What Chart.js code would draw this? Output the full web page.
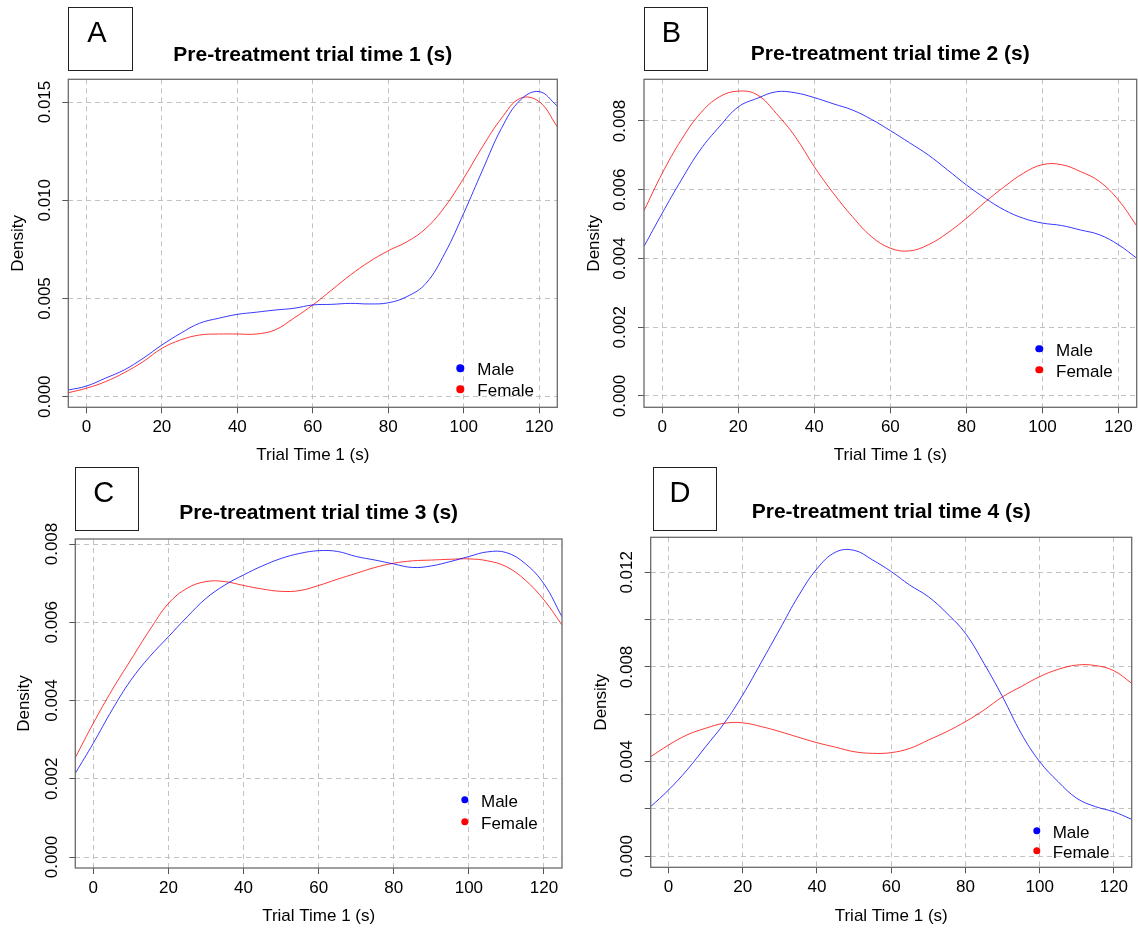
<!DOCTYPE html>
<html><head><meta charset="utf-8">
<script src="https://cdn.jsdelivr.net/npm/chart.js@4.4.1/dist/chart.umd.min.js"></script>
<style>
html,body{margin:0;padding:0;background:#fff;}
#wrap{position:relative;width:1138px;height:928px;overflow:hidden;font-family:'Liberation Sans',Arial,sans-serif;color:#000;}
canvas{position:absolute;left:0;top:0;}
.box{position:absolute;border:1.5px solid #222;box-sizing:border-box;}
.letter{position:absolute;font-size:29px;line-height:1;transform:translate(-50%,-50%);white-space:nowrap;}
.ttl{position:absolute;font-weight:bold;font-size:21px;line-height:1;transform:translate(-50%,-50%);white-space:nowrap;}
.dot{position:absolute;width:7.4px;height:7.4px;border-radius:50%;transform:translate(-50%,-50%);}
.lt{position:absolute;font-size:17px;line-height:1;transform:translateY(-50%);white-space:nowrap;}
</style></head>
<body>
<div id="wrap">
<canvas id="cA" width="1138" height="928"></canvas>
<canvas id="cB" width="1138" height="928"></canvas>
<canvas id="cC" width="1138" height="928"></canvas>
<canvas id="cD" width="1138" height="928"></canvas>
</div>
<script>
// ---------- text ----------
const panelLetters = ['A', 'B', 'C', 'D'];
const panelTitles = ['Pre-treatment trial time 1 (s)', 'Pre-treatment trial time 2 (s)', 'Pre-treatment trial time 3 (s)', 'Pre-treatment trial time 4 (s)'];
const xAxisTitle = 'Trial Time 1 (s)';
const yAxisTitle = 'Density';
const seriesNames = ['Male', 'Female'];

// ---------- ticks ----------
const xTicks = [0, 20, 40, 60, 80, 100, 120];
const xTickLabels = ['0', '20', '40', '60', '80', '100', '120'];
const aYTicks = [0, 0.005, 0.010, 0.015];
const aYLabels = ['0.000', '0.005', '0.010', '0.015'];
const bYTicks = [0, 0.002, 0.004, 0.006, 0.008];
const bYLabels = ['0.000', '0.002', '0.004', '0.006', '0.008'];
const cYTicks = [0, 0.002, 0.004, 0.006, 0.008];
const cYLabels = ['0.000', '0.002', '0.004', '0.006', '0.008'];
const dYTicks = [0, 0.002, 0.004, 0.006, 0.008, 0.010, 0.012];
const dYLabels = ['0.000', '', '0.004', '', '0.008', '', '0.012'];

// ---------- data: x positions where the density curves were read ----------
const xGrid = [-4.8, 0, 5, 10, 15, 20, 25, 30, 35, 40, 45, 50, 55, 60, 65, 70, 75, 80, 85, 90, 95, 100, 105, 110, 115, 120, 124.8];

// panel A
const aMale   = [0.00034, 0.00054, 0.00094, 0.00136, 0.00195, 0.00263, 0.00323, 0.00374, 0.00399, 0.00419, 0.0043, 0.00441, 0.0045, 0.00467, 0.0047, 0.00475, 0.00472, 0.00478, 0.0051, 0.00577, 0.0073, 0.00934, 0.01154, 0.01366, 0.0151, 0.01553, 0.0148];
const aFemale = [0.0002, 0.00043, 0.00076, 0.00122, 0.00178, 0.00246, 0.00289, 0.00314, 0.00319, 0.00319, 0.00319, 0.0034, 0.004, 0.00467, 0.00543, 0.0062, 0.00687, 0.00743, 0.00789, 0.00857, 0.00967, 0.01112, 0.01273, 0.01417, 0.01519, 0.01502, 0.01374];
// panel B
const bMale   = [0.00435, 0.00532, 0.00628, 0.00716, 0.00783, 0.00841, 0.00866, 0.00885, 0.00882, 0.00868, 0.0085, 0.00832, 0.00805, 0.00772, 0.00737, 0.00701, 0.00658, 0.00614, 0.00575, 0.00541, 0.00517, 0.00503, 0.00496, 0.00483, 0.00469, 0.0044, 0.00401];
const bFemale = [0.00539, 0.00648, 0.00745, 0.00822, 0.0087, 0.00887, 0.00876, 0.00822, 0.00754, 0.00667, 0.0059, 0.00522, 0.00464, 0.0043, 0.00422, 0.0044, 0.00474, 0.00517, 0.00565, 0.00609, 0.00648, 0.00673, 0.00673, 0.00653, 0.00624, 0.0057, 0.00495];
// panel C
const cMale   = [0.00214, 0.00291, 0.00376, 0.00452, 0.00512, 0.00563, 0.00614, 0.00661, 0.00695, 0.00721, 0.00744, 0.00763, 0.00776, 0.00783, 0.00781, 0.00768, 0.00759, 0.00749, 0.0074, 0.00744, 0.00755, 0.00768, 0.0078, 0.00778, 0.0075, 0.00698, 0.00614];
const cFemale = [0.00254, 0.00342, 0.00427, 0.00504, 0.0058, 0.00648, 0.00687, 0.00704, 0.00704, 0.00694, 0.00685, 0.00679, 0.00681, 0.00694, 0.0071, 0.00725, 0.0074, 0.00751, 0.00757, 0.00759, 0.00761, 0.00762, 0.00757, 0.00742, 0.00708, 0.00657, 0.00593];
// panel D
const dMale   = [0.0021, 0.0028, 0.00365, 0.00463, 0.00562, 0.00682, 0.0082, 0.0096, 0.011, 0.01215, 0.01285, 0.01293, 0.01252, 0.01203, 0.01146, 0.01097, 0.01027, 0.00942, 0.00815, 0.00674, 0.0052, 0.004, 0.00315, 0.00245, 0.0021, 0.00188, 0.00156];
const dFemale = [0.00421, 0.0047, 0.00513, 0.00541, 0.00562, 0.00564, 0.00548, 0.00527, 0.00503, 0.0048, 0.00461, 0.00442, 0.00435, 0.00438, 0.00456, 0.00491, 0.00527, 0.00569, 0.00618, 0.00674, 0.00717, 0.00759, 0.0079, 0.00808, 0.00806, 0.00784, 0.00731];

// ---------- layout & style (not data) ----------
const FONT = "'Liberation Sans', Arial, sans-serif";
const MALE_COLOR = 'rgba(0,0,255,0.78)';
const FEMALE_COLOR = 'rgba(255,0,0,0.78)';
const MALE_DOT = '#0000ff';
const FEMALE_DOT = '#ff0000';
const GRID_COLOR = '#c2c2c2';
const TICK_COLOR = '#555555';
const FRAME_COLOR = '#6a6a6a';
const layouts = [
  {plot: {l: 68.3, t: 79.3, r: 557.3, b: 407.3}, yMin: -0.00054, yMax: 0.016156, densX: 18, xTitleY: 455.7,
   box: {l: 68, t: 7, r: 133, b: 71}, letter: {x: 97, y: 32}, title: {x: 312.8, y: 52.5},
   legend: {dotX: 460.3, y1: 368.3, y2: 389.3, textX: 477.3}},
  {plot: {l: 644, t: 79.3, r: 1136.7, b: 407.3}, yMin: -0.000329, yMax: 0.009213, densX: 594, xTitleY: 455.7,
   box: {l: 644, t: 7, r: 708.3, b: 71}, letter: {x: 671.3, y: 32}, title: {x: 890.3, y: 51.5},
   legend: {dotX: 1039.3, y1: 349, y2: 370, textX: 1056}},
  {plot: {l: 75.3, t: 539, r: 562, b: 868}, yMin: -0.000281, yMax: 0.008128, densX: 24.5, xTitleY: 916.7,
   box: {l: 75.3, t: 466.7, r: 139.3, b: 530.7}, letter: {x: 103.8, y: 492}, title: {x: 318.6, y: 511.3},
   legend: {dotX: 465, y1: 800, y2: 821.7, textX: 481}},
  {plot: {l: 650.7, t: 537.3, r: 1131.7, b: 867.3}, yMin: -0.000465, yMax: 0.013479, densX: 601.8, xTitleY: 916.7,
   box: {l: 653.3, t: 466.7, r: 717.3, b: 530.7}, letter: {x: 680, y: 492}, title: {x: 891.2, y: 509.5},
   legend: {dotX: 1036.7, y1: 830.7, y2: 851, textX: 1052.7}}
];

const panelSeries = [[aMale, aFemale], [bMale, bFemale], [cMale, cFemale], [dMale, dFemale]];
const panelYTicks = [aYTicks, bYTicks, cYTicks, dYTicks];
const panelYLabels = [aYLabels, bYLabels, cYLabels, dYLabels];
const seriesColors = [MALE_COLOR, FEMALE_COLOR];
const dotColors = [MALE_DOT, FEMALE_DOT];
const canvasIds = ['cA', 'cB', 'cC', 'cD'];

const framePlugin = {
  id: 'frame',
  afterDraw(chart) {
    const {ctx, chartArea: a} = chart;
    ctx.save();
    ctx.strokeStyle = FRAME_COLOR;
    ctx.lineWidth = 1.3;
    ctx.strokeRect(a.left, a.top, a.right - a.left, a.bottom - a.top);
    ctx.restore();
  }
};

const measureCtx = document.createElement('canvas').getContext('2d');
measureCtx.font = '17px ' + FONT;

const W = 1138, H = 928;
const TL = 6;
const LH = 17 * 1.2;

function buildPanel(i) {
  const P = layouts[i];
  const yTicks = panelYTicks[i];
  const yLabels = panelYLabels[i];
  const widest = Math.max(...yLabels.map(s => measureCtx.measureText(s).width));
  const yPad = 23.2 - TL - widest / 2;
  const yAxisLeft = P.densX - LH / 2;
  const yWidth = P.plot.l - yAxisLeft;
  const xBottom = P.xTitleY + LH / 2;
  const xHeight = xBottom - P.plot.b;

  const datasets = panelSeries[i].map((ys, k) => ({
    label: seriesNames[k],
    data: xGrid.map((v, j) => ({x: v, y: ys[j]})),
    borderColor: seriesColors[k],
    borderWidth: 1,
    pointRadius: 0,
    fill: false,
    tension: 0.4
  }));

  new Chart(document.getElementById(canvasIds[i]), {
    type: 'line',
    data: {datasets},
    options: {
      responsive: false,
      animation: false,
      events: [],
      layout: {padding: {left: yAxisLeft, top: P.plot.t, right: W - P.plot.r, bottom: H - xBottom}},
      plugins: {legend: {display: false}, tooltip: {enabled: false}, title: {display: false}},
      scales: {
        x: {
          type: 'linear', position: 'bottom', min: -4.8, max: 124.8,
          afterBuildTicks: s => { s.ticks = xTicks.map(v => ({value: v})); },
          afterFit: s => { s.height = xHeight; },
          ticks: {font: {family: FONT, size: 17}, color: '#000', padding: 3.8, minRotation: 0, maxRotation: 0, autoSkip: false,
                  callback: (v, idx) => xTickLabels[idx]},
          grid: {color: GRID_COLOR, lineWidth: 1, drawTicks: true, tickLength: TL, tickColor: TICK_COLOR, tickWidth: 1},
          border: {display: false, dash: [5, 4]},
          title: {display: true, text: xAxisTitle, font: {family: FONT, size: 17}, color: '#000', padding: 0}
        },
        y: {
          type: 'linear', position: 'left', min: P.yMin, max: P.yMax,
          afterBuildTicks: s => { s.ticks = yTicks.map(v => ({value: v})); },
          afterFit: s => { s.width = yWidth; },
          ticks: {font: {family: FONT, size: 17}, color: '#000', padding: yPad, minRotation: 90, maxRotation: 90,
                  crossAlign: 'center', autoSkip: false, callback: (v, idx) => yLabels[idx]},
          grid: {color: GRID_COLOR, lineWidth: 1, drawTicks: true, tickLength: TL, tickColor: TICK_COLOR, tickWidth: 1},
          border: {display: false, dash: [5, 4]},
          title: {display: true, text: yAxisTitle, font: {family: FONT, size: 17}, color: '#000', padding: 0}
        }
      }
    },
    plugins: [framePlugin]
  });

  // overlay text: letter box, title, legend
  const wrap = document.getElementById('wrap');
  const box = document.createElement('div');
  box.className = 'box';
  box.style.left = P.box.l + 'px'; box.style.top = P.box.t + 'px';
  box.style.width = (P.box.r - P.box.l) + 'px'; box.style.height = (P.box.b - P.box.t) + 'px';
  wrap.appendChild(box);
  const letter = document.createElement('div');
  letter.className = 'letter'; letter.textContent = panelLetters[i];
  letter.style.left = P.letter.x + 'px'; letter.style.top = P.letter.y + 'px';
  wrap.appendChild(letter);
  const ttl = document.createElement('div');
  ttl.className = 'ttl'; ttl.textContent = panelTitles[i];
  ttl.style.left = P.title.x + 'px'; ttl.style.top = P.title.y + 'px';
  wrap.appendChild(ttl);
  [P.legend.y1, P.legend.y2].forEach((yy, k) => {
    const d = document.createElement('div');
    d.className = 'dot'; d.style.background = dotColors[k];
    d.style.left = P.legend.dotX + 'px'; d.style.top = yy + 'px';
    wrap.appendChild(d);
    const t = document.createElement('div');
    t.className = 'lt'; t.textContent = seriesNames[k];
    t.style.left = P.legend.textX + 'px'; t.style.top = (yy + 1) + 'px';
    wrap.appendChild(t);
  });
}

for (let i = 0; i < 4; i++) buildPanel(i);
</script>
</body></html>
